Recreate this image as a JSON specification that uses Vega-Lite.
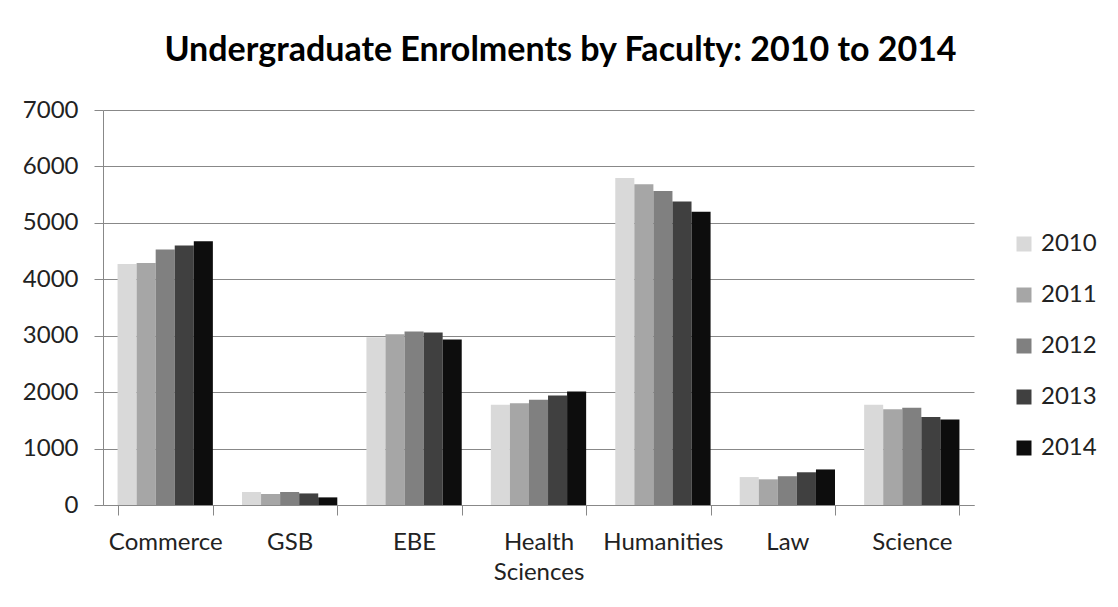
{
  "$schema": "https://vega.github.io/schema/vega-lite/v6.json",
  "autosize": {"type": "none"},
  "width": 871,
  "height": 395,
  "padding": {"left": 103, "top": 110, "right": 144, "bottom": 102},
  "background": "white",
  "title": {
    "text": "Undergraduate Enrolments by Faculty: 2010 to 2014",
    "anchor": "middle",
    "frame": "group",
    "dx": 22,
    "offset": 30,
    "font": "Lato, sans-serif",
    "fontSize": 34,
    "fontWeight": "bold",
    "color": "#000000"
  },
  "data": {
    "values": [
      {"faculty": "Commerce", "year": "2010", "enrolments": 4270},
      {"faculty": "Commerce", "year": "2011", "enrolments": 4290},
      {"faculty": "Commerce", "year": "2012", "enrolments": 4530},
      {"faculty": "Commerce", "year": "2013", "enrolments": 4600},
      {"faculty": "Commerce", "year": "2014", "enrolments": 4675},
      {"faculty": "GSB", "year": "2010", "enrolments": 230},
      {"faculty": "GSB", "year": "2011", "enrolments": 195},
      {"faculty": "GSB", "year": "2012", "enrolments": 230},
      {"faculty": "GSB", "year": "2013", "enrolments": 205},
      {"faculty": "GSB", "year": "2014", "enrolments": 135},
      {"faculty": "EBE", "year": "2010", "enrolments": 2975},
      {"faculty": "EBE", "year": "2011", "enrolments": 3025},
      {"faculty": "EBE", "year": "2012", "enrolments": 3075},
      {"faculty": "EBE", "year": "2013", "enrolments": 3055},
      {"faculty": "EBE", "year": "2014", "enrolments": 2935},
      {"faculty": "Health Sciences", "year": "2010", "enrolments": 1775},
      {"faculty": "Health Sciences", "year": "2011", "enrolments": 1805},
      {"faculty": "Health Sciences", "year": "2012", "enrolments": 1865},
      {"faculty": "Health Sciences", "year": "2013", "enrolments": 1940},
      {"faculty": "Health Sciences", "year": "2014", "enrolments": 2010},
      {"faculty": "Humanities", "year": "2010", "enrolments": 5795},
      {"faculty": "Humanities", "year": "2011", "enrolments": 5685},
      {"faculty": "Humanities", "year": "2012", "enrolments": 5565},
      {"faculty": "Humanities", "year": "2013", "enrolments": 5380},
      {"faculty": "Humanities", "year": "2014", "enrolments": 5195},
      {"faculty": "Law", "year": "2010", "enrolments": 495},
      {"faculty": "Law", "year": "2011", "enrolments": 455},
      {"faculty": "Law", "year": "2012", "enrolments": 510},
      {"faculty": "Law", "year": "2013", "enrolments": 580},
      {"faculty": "Law", "year": "2014", "enrolments": 630},
      {"faculty": "Science", "year": "2010", "enrolments": 1775},
      {"faculty": "Science", "year": "2011", "enrolments": 1695},
      {"faculty": "Science", "year": "2012", "enrolments": 1725},
      {"faculty": "Science", "year": "2013", "enrolments": 1560},
      {"faculty": "Science", "year": "2014", "enrolments": 1515}
    ]
  },
  "mark": {"type": "bar"},
  "encoding": {
    "x": {
      "field": "faculty",
      "type": "nominal",
      "sort": null,
      "scale": {"paddingInner": 0.234, "paddingOuter": 0.117},
      "axis": {
        "title": null,
        "labelAngle": 0,
        "tickBand": "extent",
        "tickSize": 10,
        "tickColor": "#888888",
        "domainColor": "#888888",
        "labelPadding": 15,
        "labelFont": "Lato, sans-serif",
        "labelFontSize": 24,
        "labelColor": "#222222",
        "labelLineHeight": 30,
        "labelBaseline": "top",
        "labelExpr": "datum.value == 'Health Sciences' ? ['Health', 'Sciences'] : datum.value",
        "grid": false
      }
    },
    "xOffset": {"field": "year", "type": "nominal", "scale": {"paddingInner": 0, "paddingOuter": 0}},
    "y": {
      "field": "enrolments",
      "type": "quantitative",
      "scale": {"domain": [0, 7000], "nice": false},
      "axis": {
        "title": null,
        "values": [0, 1000, 2000, 3000, 4000, 5000, 6000, 7000],
        "format": "d",
        "tickSize": 9,
        "tickColor": "#888888",
        "domainColor": "#888888",
        "gridColor": "#888888",
        "labelPadding": 16,
        "labelFont": "Lato, sans-serif",
        "labelFontSize": 24,
        "labelColor": "#222222"
      }
    },
    "color": {
      "field": "year",
      "type": "nominal",
      "scale": {
        "domain": ["2010", "2011", "2012", "2013", "2014"],
        "range": ["#d9d9d9", "#a6a6a6", "#808080", "#404040", "#0d0d0d"]
      },
      "legend": {
        "title": null,
        "orient": "none",
        "legendX": 909,
        "legendY": 122,
        "symbolType": "square",
        "symbolSize": 225,
        "symbolStrokeWidth": 0,
        "labelFont": "Lato, sans-serif",
        "labelFontSize": 24,
        "labelColor": "#222222",
        "labelOffset": 5,
        "rowPadding": 27
      }
    }
  },
  "config": {
    "view": {"stroke": null},
    "axis": {"domainWidth": 1, "gridWidth": 1, "tickWidth": 1}
  }
}
